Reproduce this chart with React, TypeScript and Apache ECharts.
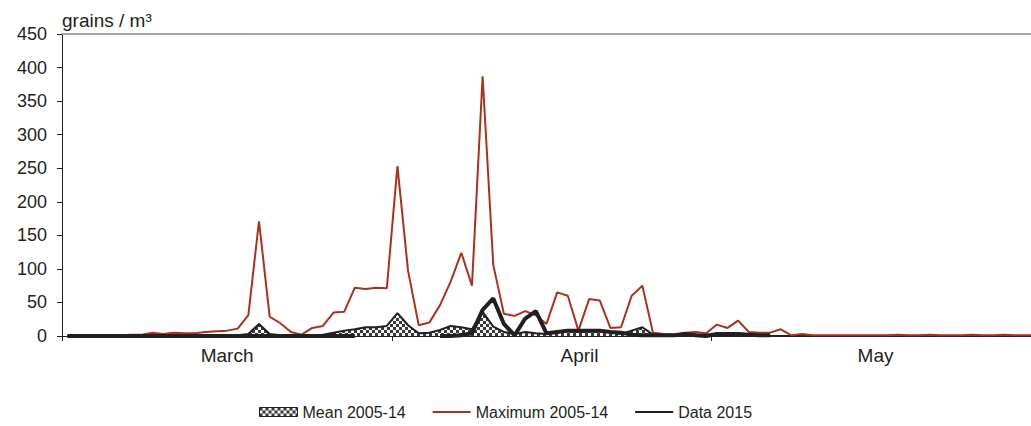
import React, { useEffect, useRef } from "react";
import * as echarts from "echarts";

// Daily values, 1 March (index 0) to 31 May (index 91)
const meanValues: number[] = [
  0, 0, 0, 0, 0, 0, 0, 0, 0, 0, 0, 0, 0, 0, 0, 0, 1, 3, 18, 3,
  1, 0, 0, 1, 2, 5, 8, 10, 13, 13, 15, 34, 16, 4, 5, 9, 15, 13, 10, 36,
  14, 6, 3, 6, 4, 3, 6, 8, 6, 7, 7, 6, 3, 8, 13, 2, 1, 1, 2, 2,
  2, 3, 3, 3, 1, 0, 0, 0, 0, 0, 0, 0, 0, 0, 0, 0, 0, 0, 0, 0,
  0, 0, 0, 0, 0, 0, 0, 0, 0, 0, 0, 0,
];
const maxValues: number[] = [
  0, 0, 0, 0, 0, 1, 2, 2, 5, 3, 5, 4, 4, 6, 7, 8, 11, 31, 171, 29,
  19, 6, 2, 12, 15, 35, 36, 72, 70, 72, 71, 253, 97, 16, 20, 46, 81, 124, 75, 387,
  106, 33, 30, 37, 31, 18, 65, 60, 8, 55, 53, 12, 13, 60, 75, 5, 3, 2, 5, 6,
  4, 17, 12, 23, 6, 5, 5, 10, 1, 3, 1, 1, 1, 1, 1, 1, 1, 1, 2, 1,
  1, 2, 1, 1, 1, 2, 1, 1, 2, 1, 1, 1,
];
const data2015Values: (number | null)[] = [
  0, 0, 0, 0, 0, 0, 0, 0, 0, 0, 0, 0, 0, 0, 0, 0, 0, 0, 0, 0,
  0, 0, 0, 0, 0, 0, 0, 0, null, null, null, null, null, null, null, 0, 0, 1, 4, 39,
  56, 18, 1, 26, 37, 4, 6, 8, 8, 8, 8, 6, 5, 2, 1, 1, 1, 1, 3, 1,
  0, 3, 3, 3, 2, 1, 1, null, null, null, null, null, null, null, null, null, null, null, null, null,
  null, null, null, null, null, null, null, null, null, null, null, null,
];

const monthNames: string[] = ["March", "April", "May"];
const monthLabelAt: number[] = [15.5, 48.6, 76.4];
const monthStarts: number[] = [0, 31, 61];
const seriesNames: string[] = ["Mean 2005-14", "Maximum 2005-14", "Data 2015"];
const yTicks = { min: 0, max: 450, interval: 50 };

const TEXT = "#231f20";
const RED = "#a8321e";
const FONT = "'Liberation Sans', Arial, sans-serif";

function makePattern() {
  const c = document.createElement("canvas");
  c.width = 6;
  c.height = 6;
  const ctx = c.getContext("2d")!;
  ctx.fillStyle = "#f4f4f4";
  ctx.fillRect(0, 0, 6, 6);
  ctx.fillStyle = "#3a3a3a";
  ctx.fillRect(0, 0, 3, 3);
  ctx.fillRect(3, 3, 3, 3);
  return { image: c, repeat: "repeat" as const };
}

export default function App() {
  const ref = useRef<HTMLDivElement>(null);
  useEffect(() => {
    if (!ref.current) return;
    const chart = echarts.init(ref.current, undefined, { renderer: "svg" });
    const pattern = makePattern();
    const toPairs = (arr: (number | null)[]) =>
      arr.map((v, i) => [i + 0.5, v === null ? "-" : v]);
    const hiddenSymbol = { color: "rgba(0,0,0,0)", borderColor: "rgba(0,0,0,0)", borderWidth: 0, opacity: 0 };

    chart.setOption({
      animation: false,
      textStyle: { fontFamily: FONT },
      title: {
        text: "grains / m³",
        left: 57,
        top: 6,
        textStyle: { fontSize: 19, fontWeight: "normal", color: TEXT, fontFamily: FONT },
      },
      grid: { left: 62, right: 0, top: 34, bottom: 90, containLabel: false },
      legend: {
        left: 254,
        top: 399,
        itemWidth: 38,
        itemHeight: 9,
        itemGap: 26,
        textStyle: { fontSize: 16, color: TEXT, fontFamily: FONT },
        data: [
          {
            name: seriesNames[0],
            icon: "rect",
            itemStyle: { color: pattern, borderColor: TEXT, borderWidth: 1 },
          },
          { name: seriesNames[1], itemStyle: hiddenSymbol },
          { name: seriesNames[2], itemStyle: hiddenSymbol },
        ],
      },
      xAxis: [
        {
          type: "value",
          min: 0,
          max: 91,
          splitLine: { show: false },
          axisLine: { show: true, onZero: false, lineStyle: { color: TEXT, width: 1 } },
          axisTick: {
            show: true,
            length: 5,
            inside: false,
            customValues: monthStarts,
            lineStyle: { color: TEXT },
          },
          axisLabel: {
            show: true,
            customValues: monthLabelAt,
            margin: 10,
            fontSize: 19,
            color: TEXT,
            fontFamily: FONT,
            formatter: (v: number) => {
              let best = 0;
              monthLabelAt.forEach((p, i) => {
                if (Math.abs(p - v) < Math.abs(monthLabelAt[best] - v)) best = i;
              });
              return monthNames[best];
            },
          },
        },
        {
          type: "value",
          position: "top",
          min: 0,
          max: 91,
          splitLine: { show: false },
          axisLine: { show: true, onZero: false, lineStyle: { color: "#8c8c8c", width: 1.5 } },
          axisTick: { show: false },
          axisLabel: { show: false },
        },
      ],
      yAxis: {
        type: "value",
        min: yTicks.min,
        max: yTicks.max,
        interval: yTicks.interval,
        splitLine: { show: false },
        axisLine: { show: true, lineStyle: { color: TEXT, width: 1 } },
        axisTick: { show: true, length: 5, lineStyle: { color: TEXT } },
        axisLabel: { fontSize: 18, color: TEXT, margin: 15, fontFamily: FONT },
      },
      series: [
        {
          name: seriesNames[0],
          type: "line",
          data: toPairs(meanValues),
          symbol: "none",
          lineStyle: { color: TEXT, width: 2 },
          itemStyle: { color: TEXT },
          areaStyle: { color: pattern, opacity: 1 },
          z: 2,
        },
        {
          name: seriesNames[1],
          type: "line",
          data: toPairs(maxValues),
          symbol: "none",
          lineStyle: { color: RED, width: 2 },
          itemStyle: { color: RED },
          z: 3,
        },
        {
          name: seriesNames[2],
          type: "line",
          data: toPairs(data2015Values),
          symbol: "none",
          connectNulls: false,
          lineStyle: { color: TEXT, width: 4 },
          itemStyle: { color: TEXT },
          z: 4,
        },
      ],
    });
    return () => chart.dispose();
  }, []);

  return (
    <div
      ref={ref}
      style={{ position: "fixed", left: 0, top: 0, width: 1031, height: 426, background: "#fff" }}
    />
  );
}
